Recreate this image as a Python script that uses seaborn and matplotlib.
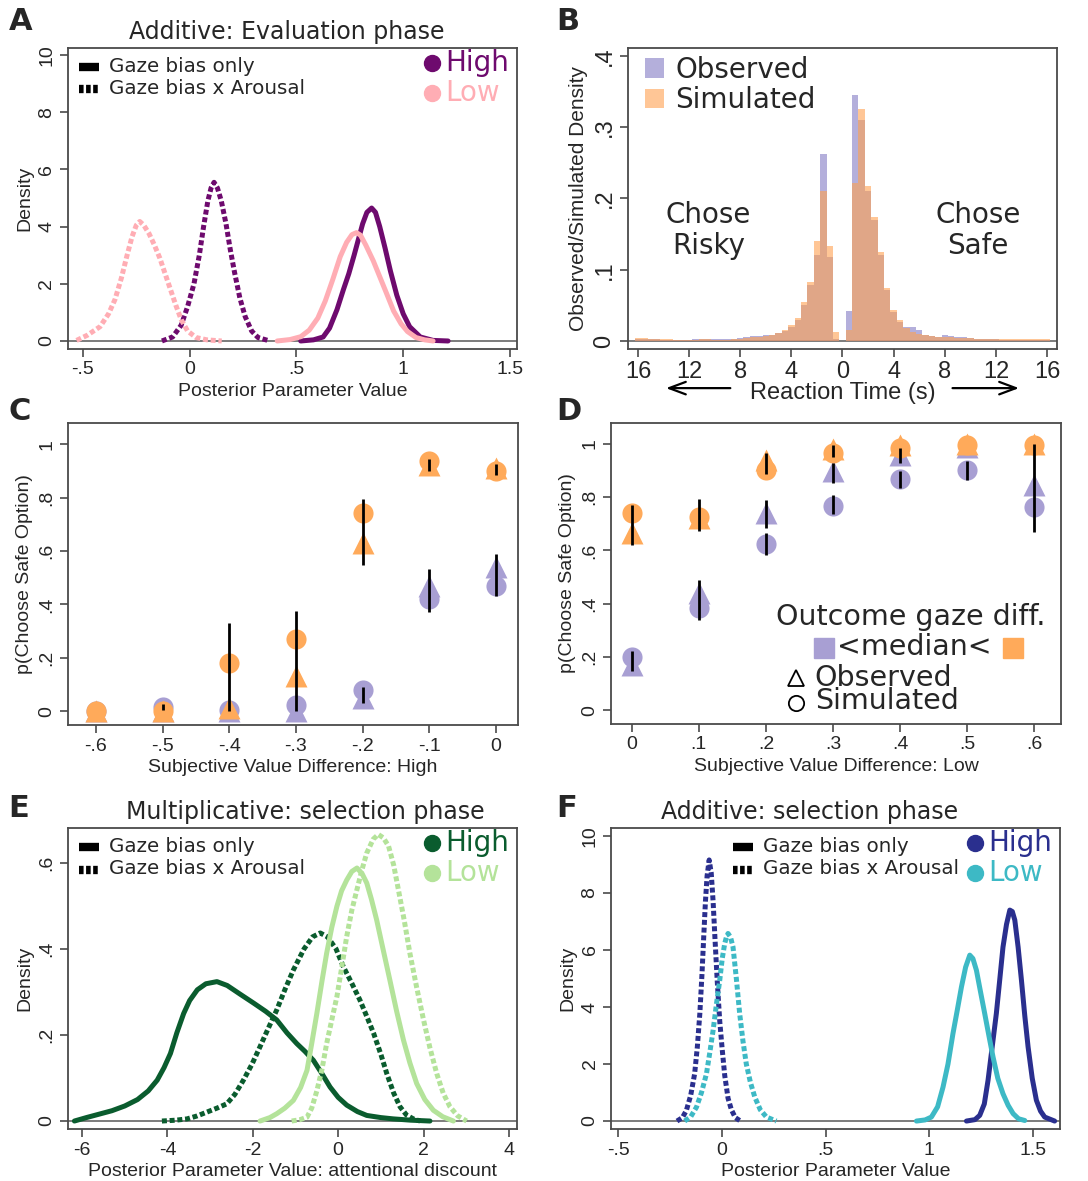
import matplotlib
matplotlib.use("Agg")
import matplotlib.pyplot as plt
import seaborn as sns

# ---------------- data ----------------
# A: additive model, evaluation phase (posterior densities)
a_high_solid_x = [0.52, 0.58, 0.625, 0.655, 0.69, 0.72, 0.745, 0.77, 0.79, 0.81, 0.83,
                  0.852, 0.87, 0.89, 0.915, 0.94, 0.97, 1.0, 1.03, 1.08, 1.14, 1.21]
a_high_solid_y = [0.0, 0.04, 0.14, 0.45, 1.1, 1.8, 2.35, 3.0, 3.55, 4.1, 4.5,
                  4.65, 4.5, 4.0, 3.25, 2.45, 1.6, 0.95, 0.5, 0.14, 0.02, 0.0]
a_low_solid_x = [0.41, 0.47, 0.52, 0.56, 0.6, 0.635, 0.67, 0.705, 0.735, 0.76, 0.781,
                 0.80, 0.825, 0.86, 0.89, 0.92, 0.955, 0.99, 1.02, 1.06, 1.1, 1.14]
a_low_solid_y = [0.0, 0.05, 0.15, 0.38, 0.8, 1.4, 2.15, 2.95, 3.45, 3.72, 3.79,
                 3.7, 3.35, 2.8, 2.25, 1.7, 1.05, 0.6, 0.33, 0.12, 0.04, 0.0]
a_high_dash_x = [-0.13, -0.08, -0.04, -0.01, 0.02, 0.045, 0.065, 0.085, 0.1, 0.114,
                 0.13, 0.148, 0.17, 0.19, 0.21, 0.235, 0.26, 0.29, 0.32, 0.375]
a_high_dash_y = [0.0, 0.14, 0.55, 1.2, 2.0, 3.0, 4.0, 4.9, 5.35, 5.55,
                 5.35, 4.9, 4.1, 3.2, 2.4, 1.5, 0.85, 0.35, 0.12, 0.0]
a_low_dash_x = [-0.53, -0.48, -0.42, -0.38, -0.35, -0.32, -0.295, -0.27, -0.25, -0.234, -0.215,
                -0.19, -0.165, -0.14, -0.115, -0.09, -0.065, -0.04, -0.01, 0.03, 0.08, 0.15]
a_low_dash_y = [0.02, 0.2, 0.5, 0.95, 1.45, 2.2, 2.95, 3.65, 4.05, 4.18, 4.05,
                3.75, 3.35, 2.9, 2.35, 1.8, 1.25, 0.75, 0.35, 0.12, 0.04, 0.0]

# B: reaction time histograms (risky choices on the negative side), 0.5 s bins
rt_bins = [-16.0, -15.5, -15.0, -14.5, -14.0, -13.5, -13.0, -12.5, -12.0, -11.5, -11.0,
           -10.5, -10.0, -9.5, -9.0, -8.5, -8.0, -7.5, -7.0, -6.5, -6.0, -5.5, -5.0,
           -4.5, -4.0, -3.5, -3.0, -2.5, -2.0, -1.5, -1.0, -0.5, 0.0,
           0.5, 1.0, 1.5, 2.0, 2.5, 3.0, 3.5, 4.0, 4.5, 5.0, 5.5, 6.0, 6.5, 7.0,
           7.5, 8.0, 8.5, 9.0, 9.5, 10.0, 10.5, 11.0, 11.5, 12.0, 12.5, 13.0, 13.5,
           14.0, 14.5, 15.0, 15.5, 16.0]
rt_observed = [0.003, 0.003, 0.003, 0.003, 0.002, 0.002, 0.002, 0.002, 0.002, 0.003, 0.003,
               0.003, 0.003, 0.003, 0.003, 0.003, 0.004, 0.006, 0.007, 0.007, 0.008, 0.009, 0.011,
               0.014, 0.02, 0.03, 0.05, 0.078, 0.12, 0.262, 0.118, 0.003, 0.0,
               0.042, 0.345, 0.31, 0.21, 0.17, 0.12, 0.072, 0.04, 0.026, 0.02, 0.019, 0.015, 0.009, 0.007,
               0.006, 0.008, 0.007, 0.006, 0.006, 0.004, 0.003, 0.003, 0.003, 0.003, 0.002, 0.002, 0.002,
               0.002, 0.002, 0.002, 0.002, 0.002]
rt_simulated = [0.004, 0.004, 0.003, 0.003, 0.003, 0.003, 0.002, 0.002, 0.002, 0.002, 0.003,
                0.003, 0.002, 0.002, 0.002, 0.003, 0.003, 0.004, 0.005, 0.006, 0.007, 0.009, 0.011,
                0.015, 0.022, 0.032, 0.055, 0.083, 0.141, 0.211, 0.134, 0.013, 0.0,
                0.016, 0.222, 0.326, 0.217, 0.174, 0.125, 0.074, 0.043, 0.029, 0.018, 0.013, 0.01, 0.008, 0.007,
                0.006, 0.005, 0.005, 0.004, 0.004, 0.004, 0.003, 0.003, 0.003, 0.003, 0.003, 0.003, 0.003,
                0.003, 0.003, 0.003, 0.003, 0.003]
rt_ticks = [-16, -12, -8, -4, 0, 4, 8, 12, 16]
rt_ticklabels = ["16", "12", "8", "4", "0", "4", "8", "12", "16"]

# C: choice curves, high arousal
c_svd = [-0.6, -0.5, -0.4, -0.3, -0.2, -0.1, 0.0]
c_obs_below = [0.0, 0.0, 0.0, 0.0, 0.05, 0.47, 0.54]
c_sim_below = [0.0, 0.016, 0.004, 0.022, 0.079, 0.42, 0.468]
c_obs_above = [0.0, 0.0, 0.01, 0.13, 0.63, 0.92, 0.91]
c_sim_above = [0.0, 0.0, 0.18, 0.27, 0.743, 0.938, 0.90]
c_err_x = [-0.5, -0.4, -0.3, -0.2, -0.2, -0.1, -0.1, 0.0, 0.0]
c_err_lo = [0.005, 0.0, 0.0, 0.547, 0.03, 0.90, 0.372, 0.884, 0.43]
c_err_hi = [0.025, 0.33, 0.375, 0.793, 0.09, 0.946, 0.534, 0.927, 0.59]

# D: choice curves, low arousal
d_svd = [0.0, 0.1, 0.2, 0.3, 0.4, 0.5, 0.6]
d_obs_below = [0.17, 0.44, 0.74, 0.90, 0.96, 0.99, 0.846]
d_sim_below = [0.20, 0.385, 0.625, 0.768, 0.868, 0.903, 0.763]
d_obs_above = [0.665, 0.72, 0.94, 0.98, 0.995, 1.0, 1.0]
d_sim_above = [0.74, 0.725, 0.903, 0.965, 0.984, 0.996, 0.996]
d_err_x = [0.0, 0.0, 0.1, 0.1, 0.2, 0.2, 0.2, 0.3, 0.3, 0.3, 0.4, 0.4, 0.5, 0.6]
d_err_lo = [0.62, 0.147, 0.672, 0.34, 0.888, 0.684, 0.584, 0.95, 0.855, 0.735, 0.93, 0.835, 0.865, 0.668]
d_err_hi = [0.77, 0.222, 0.793, 0.49, 0.965, 0.79, 0.665, 0.995, 0.93, 0.81, 0.985, 0.90, 0.935, 1.0]

# E: multiplicative model, selection phase
e_high_solid_x = [-6.18, -5.9, -5.6, -5.3, -5.0, -4.7, -4.45, -4.24, -4.08, -3.93, -3.78, -3.62,
                  -3.48, -3.3, -3.1, -2.84, -2.6, -2.3, -1.98, -1.7, -1.44, -1.2, -0.97, -0.78,
                  -0.58, -0.38, -0.19, 0.0, 0.2, 0.45, 0.67, 1.0, 1.29, 1.7, 2.15]
e_high_solid_y = [0.0, 0.008, 0.016, 0.024, 0.035, 0.05, 0.07, 0.095, 0.124, 0.157, 0.205, 0.25,
                  0.28, 0.305, 0.319, 0.324, 0.315, 0.295, 0.274, 0.255, 0.235, 0.205, 0.18, 0.162,
                  0.141, 0.11, 0.079, 0.055, 0.037, 0.022, 0.013, 0.008, 0.005, 0.002, 0.0]
e_high_dash_x = [-4.13, -3.8, -3.54, -3.3, -3.07, -2.84, -2.61, -2.42, -2.22, -2.02, -1.83,
                 -1.64, -1.44, -1.25, -1.05, -0.8, -0.6, -0.42, -0.25, -0.05, 0.12, 0.32,
                 0.51, 0.67, 0.83, 1.0, 1.14, 1.3, 1.45, 1.6, 1.76, 1.92]
e_high_dash_y = [0.0, 0.002, 0.005, 0.012, 0.021, 0.03, 0.04, 0.062, 0.095, 0.132, 0.173,
                 0.215, 0.258, 0.305, 0.351, 0.4, 0.428, 0.437, 0.428, 0.4, 0.359, 0.32,
                 0.281, 0.243, 0.204, 0.155, 0.11, 0.065, 0.033, 0.014, 0.005, 0.0]
e_low_solid_x = [-1.83, -1.6, -1.44, -1.25, -1.05, -0.88, -0.73, -0.62, -0.5, -0.38, -0.27,
                 -0.15, -0.03, 0.08, 0.2, 0.32, 0.44, 0.56, 0.67, 0.78, 0.9, 1.05, 1.21,
                 1.37, 1.53, 1.68, 1.84, 2.03, 2.23, 2.45, 2.7]
e_low_solid_y = [0.0, 0.008, 0.017, 0.03, 0.048, 0.078, 0.118, 0.18, 0.25, 0.325, 0.39,
                 0.45, 0.499, 0.535, 0.56, 0.58, 0.588, 0.575, 0.553, 0.515, 0.468, 0.4, 0.328,
                 0.255, 0.188, 0.135, 0.087, 0.05, 0.025, 0.01, 0.0]
e_low_dash_x = [-1.09, -0.9, -0.73, -0.62, -0.5, -0.38, -0.27, -0.15, -0.03, 0.08, 0.2,
                0.32, 0.44, 0.56, 0.67, 0.82, 0.94, 1.06, 1.18, 1.3, 1.41, 1.55, 1.68,
                1.84, 2.0, 2.15, 2.31, 2.46, 2.62, 2.8, 3.01]
e_low_dash_y = [0.0, 0.003, 0.009, 0.03, 0.07, 0.12, 0.18, 0.235, 0.289, 0.355, 0.429,
                0.49, 0.538, 0.585, 0.623, 0.655, 0.666, 0.658, 0.639, 0.595, 0.538, 0.465, 0.39,
                0.31, 0.235, 0.17, 0.11, 0.065, 0.033, 0.012, 0.0]

# F: additive model, selection phase
f_high_solid_x = [1.179, 1.22, 1.243, 1.265, 1.283, 1.303, 1.323, 1.34, 1.355, 1.372, 1.388,
                  1.4, 1.412, 1.428, 1.444, 1.46, 1.476, 1.496, 1.516, 1.536, 1.556, 1.604]
f_high_solid_y = [0.0, 0.05, 0.2, 0.6, 1.43, 2.6, 3.77, 5.0, 6.1, 6.9, 7.4,
                  7.35, 7.05, 6.1, 4.94, 3.7, 2.6, 1.5, 0.73, 0.35, 0.14, 0.0]
f_low_solid_x = [0.938, 0.98, 1.01, 1.04, 1.066, 1.09, 1.114, 1.135, 1.155, 1.175, 1.195, 1.21,
                 1.227, 1.245, 1.267, 1.287, 1.307, 1.33, 1.355, 1.38, 1.404, 1.43, 1.46]
f_low_solid_y = [0.0, 0.04, 0.14, 0.5, 1.19, 2.0, 3.07, 3.9, 4.71, 5.4, 5.82, 5.7,
                 5.29, 4.6, 3.77, 3.0, 2.25, 1.5, 0.96, 0.55, 0.26, 0.08, 0.02]
f_high_dash_x = [-0.216, -0.19, -0.171, -0.15, -0.131, -0.118, -0.106, -0.096, -0.087, -0.079, -0.071, -0.061,
                 -0.051, -0.042, -0.033, -0.022, -0.01, 0.002, 0.014, 0.03, 0.046, 0.065, 0.086]
f_high_dash_y = [0.0, 0.12, 0.37, 0.9, 1.66, 2.6, 3.77, 5.1, 6.5, 7.7, 8.6, 9.16,
                 8.7, 7.7, 6.4, 4.9, 3.5, 2.5, 1.6, 0.8, 0.4, 0.12, 0.02]
f_low_dash_x = [-0.179, -0.15, -0.122, -0.098, -0.074, -0.058, -0.042, -0.026, -0.01, 0.002, 0.014, 0.022,
                0.03, 0.042, 0.054, 0.07, 0.086, 0.102, 0.118, 0.138, 0.159, 0.185, 0.215, 0.263]
f_low_dash_y = [0.0, 0.15, 0.49, 1.0, 1.66, 2.4, 3.18, 4.1, 4.94, 5.7, 6.23, 6.45,
                6.58, 6.45, 6.1, 5.0, 3.77, 2.8, 2.0, 1.35, 0.84, 0.4, 0.14, 0.0]

# ---------------- style ----------------
sns.set_style("ticks")
plt.rcParams["font.family"] = ["Liberation Sans", "DejaVu Sans"]
TXT = "DejaVu Sans"
SPINE = "#4a4a4a"
DASH = (0, (1.0, 0.55))
LAV = "#A89FD3"
ORA = "#FFAA5A"


def style_axes(ax, xlim, ylim, xticks, xlabels, yticks, ylabels, size=14):
    ax.set_xlim(xlim)
    ax.set_ylim(ylim)
    ax.set_xticks(xticks)
    ax.set_xticklabels(xlabels)
    ax.set_yticks(yticks)
    ax.set_yticklabels(ylabels, rotation=90, va="center")
    for s in ax.spines.values():
        s.set_color(SPINE)
        s.set_linewidth(1.3)
        s.set_visible(True)
    ax.tick_params(direction="out", length=6, width=1.2, color=SPINE,
                   labelsize=size, pad=3)


def density_panel(ax, curves, high_col, low_col, leg_x):
    ax.axhline(0, color="#666666", lw=1.2, zorder=1)
    for xs, ys, col, dashed in curves:
        sns.lineplot(x=xs, y=ys, ax=ax, color=col, lw=3.6, estimator=None,
                     linestyle=DASH if dashed else "-", zorder=3)
    # line-type key
    ax.plot([leg_x, leg_x + 0.045], [0.937, 0.937], transform=ax.transAxes,
            color="black", lw=6, solid_capstyle="butt")
    ax.plot([leg_x, leg_x + 0.045], [0.862, 0.862], transform=ax.transAxes,
            color="black", lw=6, linestyle=(0, (0.55, 0.3)))
    ax.text(leg_x + 0.066, 0.94, "Gaze bias only", transform=ax.transAxes,
            fontsize=14.3, family=TXT, va="center")
    ax.text(leg_x + 0.066, 0.865, "Gaze bias x Arousal", transform=ax.transAxes,
            fontsize=14.3, family=TXT, va="center")
    # colour key
    for yy, col, lab in [(0.95, high_col, "High"), (0.85, low_col, "Low")]:
        ax.plot([0.81], [yy], "o", ms=11.5, color=col, transform=ax.transAxes,
                clip_on=False)
        ax.text(0.84, yy, lab, color=col, fontsize=20, family=TXT,
                va="center", transform=ax.transAxes)


def choice_panel(ax, xs, obs_b, sim_b, obs_a, sim_a, ex, elo, ehi):
    for obs, sim, col in [(obs_b, sim_b, LAV), (obs_a, sim_a, ORA)]:
        sns.scatterplot(x=xs, y=obs, ax=ax, color=col, marker="^", s=250,
                        linewidth=0, zorder=3)
        sns.scatterplot(x=xs, y=sim, ax=ax, color=col, marker="o", s=210,
                        linewidth=0, zorder=3)
    ax.vlines(ex, elo, ehi, color="black", lw=2, zorder=5)


fig = plt.figure(figsize=(10.88, 11.81), dpi=100)

# ---- A
ax = fig.add_axes([0.0625, 0.7045, 0.4127, 0.2549])
density_panel(ax, [(a_high_solid_x, a_high_solid_y, "#6E0A6E", False),
                   (a_low_solid_x, a_low_solid_y, "#FFADB4", False),
                   (a_high_dash_x, a_high_dash_y, "#6E0A6E", True),
                   (a_low_dash_x, a_low_dash_y, "#FFADB4", True)],
              "#6E0A6E", "#FFADB4", 0.025)
style_axes(ax, (-0.57, 1.533), (-0.28, 10.25), [-0.5, 0, 0.5, 1, 1.5],
           ["-.5", "0", ".5", "1", "1.5"], [0, 2, 4, 6, 8, 10],
           ["0", "2", "4", "6", "8", "10"])
ax.set_xlabel("Posterior Parameter Value", fontsize=14, labelpad=3)
ax.set_ylabel("Density", fontsize=14, labelpad=4)
ax.text(0.488, 1.053, "Additive: Evaluation phase", transform=ax.transAxes,
        fontsize=17, family=TXT, ha="center", va="center")

# ---- B
ax = fig.add_axes([0.5772, 0.7045, 0.3943, 0.2549])
ax.axhline(0, color="#666666", lw=1.2, zorder=1)
sns.histplot(x=rt_bins, weights=rt_observed, binwidth=0.5, binrange=(-16.25, 16.25),
             color="#8C84C8", alpha=0.65, linewidth=0, ax=ax, label="Observed")
sns.histplot(x=rt_bins, weights=rt_simulated, binwidth=0.5, binrange=(-16.25, 16.25),
             color="#FFA050", alpha=0.6, linewidth=0, ax=ax, label="Simulated")
style_axes(ax, (-16.78, 16.78), (-0.0112, 0.4112), rt_ticks, rt_ticklabels,
           [0, 0.1, 0.2, 0.3, 0.4], ["0", ".1", ".2", ".3", ".4"], size=17)
ax.set_xlabel("Reaction Time (s)", fontsize=17, labelpad=-1)
ax.set_ylabel("Observed/Simulated Density", fontsize=15, labelpad=4)
ax.legend(loc="upper left", bbox_to_anchor=(0.0, 1.03), frameon=False,
          handlelength=0.7, handleheight=0.7, handletextpad=0.4,
          borderaxespad=0.2, labelspacing=0.1, prop={"family": TXT, "size": 20})
ax.text(-10.5, 0.155, "Chose\nRisky", fontsize=20, family=TXT, ha="center",
        va="center", linespacing=1.1)
ax.text(10.6, 0.155, "Chose\nSafe", fontsize=20, family=TXT, ha="center",
        va="center", linespacing=1.1)
arrow = dict(arrowstyle="->,head_length=1.2,head_width=0.45", lw=1.6, color="black")
ax.annotate("", xy=(0.082, -0.13), xytext=(0.245, -0.13), xycoords="axes fraction",
            arrowprops=arrow)
ax.annotate("", xy=(0.918, -0.13), xytext=(0.75, -0.13), xycoords="axes fraction",
            arrowprops=arrow)

# ---- C
ax = fig.add_axes([0.0625, 0.3861, 0.4136, 0.2557])
choice_panel(ax, c_svd, c_obs_below, c_sim_below, c_obs_above, c_sim_above,
             c_err_x, c_err_lo, c_err_hi)
style_axes(ax, (-0.642, 0.033), (-0.052, 1.079), c_svd,
           ["-.6", "-.5", "-.4", "-.3", "-.2", "-.1", "0"],
           [0, 0.2, 0.4, 0.6, 0.8, 1], ["0", ".2", ".4", ".6", ".8", "1"])
ax.set_xlabel("Subjective Value Difference: High", fontsize=14, labelpad=3)
ax.set_ylabel("p(Choose Safe Option)", fontsize=14, labelpad=4)

# ---- D
ax = fig.add_axes([0.5616, 0.3870, 0.4136, 0.2549])
choice_panel(ax, d_svd, d_obs_below, d_sim_below, d_obs_above, d_sim_above,
             d_err_x, d_err_lo, d_err_hi)
style_axes(ax, (-0.031, 0.640), (-0.052, 1.079), d_svd,
           ["0", ".1", ".2", ".3", ".4", ".5", ".6"],
           [0, 0.2, 0.4, 0.6, 0.8, 1], ["0", ".2", ".4", ".6", ".8", "1"])
ax.set_xlabel("Subjective Value Difference: Low", fontsize=14, labelpad=3)
ax.set_ylabel("p(Choose Safe Option)", fontsize=14, labelpad=4)
ax.text(0.667, 0.355, "Outcome gaze diff.", transform=ax.transAxes, fontsize=20.5,
        family=TXT, ha="center", va="center")
ax.plot([0.473], [0.252], "s", ms=14, color=LAV, transform=ax.transAxes)
ax.plot([0.893], [0.252], "s", ms=14, color=ORA, transform=ax.transAxes)
ax.text(0.502, 0.257, "<median<", transform=ax.transAxes, fontsize=20.5,
        family=TXT, va="center")
ax.plot([0.411], [0.153], "^", ms=11, mfc="none", mec="black", mew=1.3,
        transform=ax.transAxes)
ax.plot([0.411], [0.07], "o", ms=11, mfc="none", mec="black", mew=1.3,
        transform=ax.transAxes)
ax.text(0.453, 0.115, "Observed\nSimulated", transform=ax.transAxes, fontsize=20.5,
        family=TXT, va="center", linespacing=0.8)

# ---- E
ax = fig.add_axes([0.0625, 0.0440, 0.4127, 0.2549])
density_panel(ax, [(e_high_solid_x, e_high_solid_y, "#0A5C2E", False),
                   (e_high_dash_x, e_high_dash_y, "#0A5C2E", True),
                   (e_low_solid_x, e_low_solid_y, "#B4E39A", False),
                   (e_low_dash_x, e_low_dash_y, "#B4E39A", True)],
              "#0A5C2E", "#B4E39A", 0.025)
style_axes(ax, (-6.33, 4.19), (-0.0186, 0.681), [-6, -4, -2, 0, 2, 4],
           ["-6", "-4", "-2", "0", "2", "4"], [0, 0.2, 0.4, 0.6],
           ["0", ".2", ".4", ".6"])
ax.set_xlabel("Posterior Parameter Value: attentional discount", fontsize=14,
              labelpad=3)
ax.set_ylabel("Density", fontsize=14, labelpad=4)
ax.text(0.528, 1.053, "Multiplicative: selection phase", transform=ax.transAxes,
        fontsize=17, family=TXT, ha="center", va="center")

# ---- F
ax = fig.add_axes([0.5616, 0.0440, 0.4127, 0.2549])
density_panel(ax, [(f_high_solid_x, f_high_solid_y, "#2A2F8E", False),
                   (f_low_solid_x, f_low_solid_y, "#3DB9C5", False),
                   (f_high_dash_x, f_high_dash_y, "#2A2F8E", True),
                   (f_low_dash_x, f_low_dash_y, "#3DB9C5", True)],
              "#2A2F8E", "#3DB9C5", 0.272)
style_axes(ax, (-0.534, 1.630), (-0.28, 10.28), [-0.5, 0, 0.5, 1, 1.5],
           ["-.5", "0", ".5", "1", "1.5"], [0, 2, 4, 6, 8, 10],
           ["0", "2", "4", "6", "8", "10"])
ax.set_xlabel("Posterior Parameter Value", fontsize=14, labelpad=3)
ax.set_ylabel("Density", fontsize=14, labelpad=4)
ax.text(0.443, 1.053, "Additive: selection phase", transform=ax.transAxes,
        fontsize=17, family=TXT, ha="center", va="center")

# panel letters
for x, y, lab in [(0.008, 0.994, "A"), (0.511, 0.994, "B"), (0.008, 0.664, "C"),
                  (0.511, 0.664, "D"), (0.008, 0.328, "E"), (0.511, 0.328, "F")]:
    fig.text(x, y, lab, fontsize=22, weight="bold", family=TXT, va="top")

fig.savefig("out.png", dpi=100)
